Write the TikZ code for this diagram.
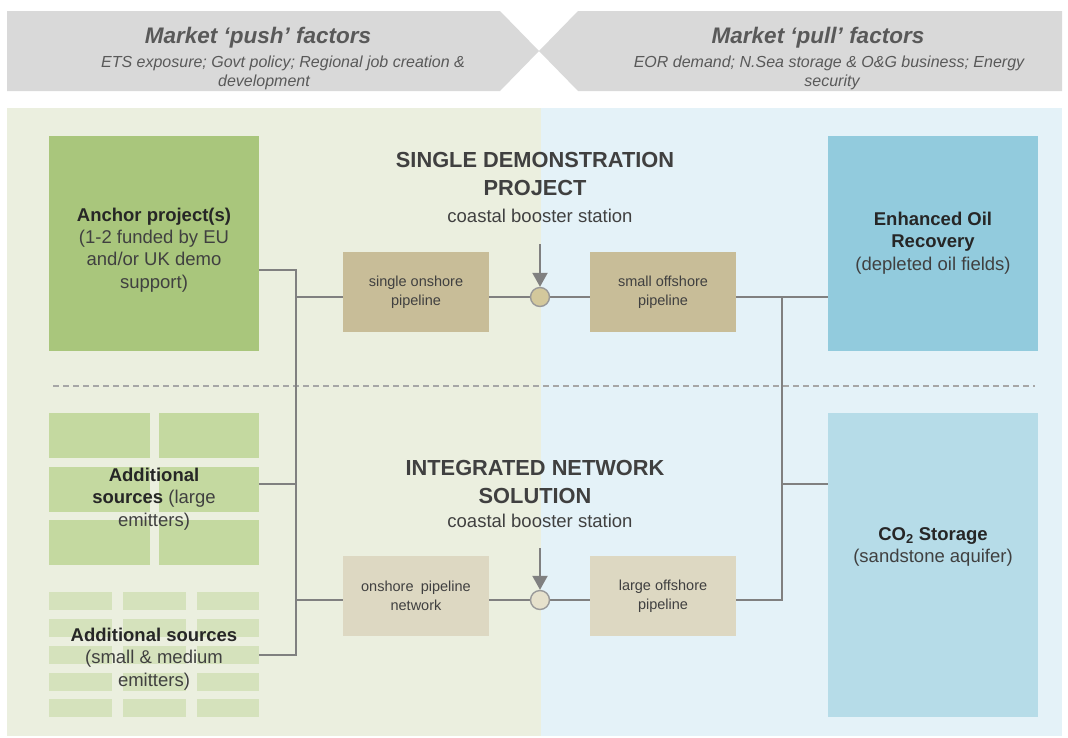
\documentclass[tikz,border=0pt]{standalone}
\usepackage{fontspec}
\setmainfont{Liberation Sans}
\usetikzlibrary{arrows.meta}
\definecolor{hdr}{HTML}{D9D9D9}
\definecolor{hdrtxt}{HTML}{595959}
\definecolor{panelL}{HTML}{EBEFDF}
\definecolor{panelR}{HTML}{E4F2F8}
\definecolor{anchorc}{HTML}{A9C67C}
\definecolor{largec}{HTML}{C4D9A0}
\definecolor{smallc}{HTML}{D5E2BC}
\definecolor{pipeA}{HTML}{C8BD98}
\definecolor{pipeB}{HTML}{DDD8C2}
\definecolor{eorc}{HTML}{92CBDD}
\definecolor{co2c}{HTML}{B6DCE8}
\definecolor{linegray}{HTML}{808080}
\definecolor{dashgray}{HTML}{A6A6A6}
\definecolor{txtdark}{HTML}{262626}
\definecolor{txtmid}{HTML}{404040}
\definecolor{circA}{HTML}{D3C89C}
\definecolor{circB}{HTML}{E6E1CC}
\tikzset{
  boxbase/.style={inner sep=0pt, outer sep=0pt, align=center, text=txtmid},
  bigbox/.style={boxbase, minimum width=210pt, minimum height=215pt},
  pipebox/.style={boxbase, minimum width=146pt, minimum height=80pt,
     font=\fontsize{14.5}{19}\selectfont},
  tile/.style={inner sep=0pt, outer sep=0pt},
  conn/.style={draw=linegray, line width=2.2pt},
  feed/.style={draw=linegray, line width=2.2pt, -{Triangle[length=14pt,width=15pt]}},
  junction/.style={circle, minimum size=19pt, inner sep=0pt, draw=linegray!80, line width=1.4pt},
  body/.style={align=center, text=txtmid, font=\fontsize{18.5}{22.5}\selectfont},
  heading/.style={align=center, text=txtmid, font=\fontsize{21.8}{28}\selectfont\bfseries},
  hdrtitle/.style={text=hdrtxt, font=\fontsize{22.5}{25}\selectfont\bfseries\itshape},
  hdrsub/.style={text=hdrtxt, font=\fontsize{16}{19}\selectfont\itshape},
}
\begin{document}
\begin{tikzpicture}[x=1pt,y=-1pt]
\useasboundingbox (0,0) rectangle (1068,737);
\fill[white] (0,0) rectangle (1068,737);
% header banners
\fill[hdr] (7,11) -- (500,11) -- (539,51) -- (500,91) -- (7,91) -- cycle;
\fill[hdr] (578,11) -- (1062,11) -- (1062,91) -- (578,91) -- (539,51) -- cycle;
\node[hdrtitle] (pushT) at (258,38) {Market ‘push’ factors};
\node[hdrsub] (pushS1) at (283,63) {ETS exposure; Govt policy; Regional job creation \&};
\node[hdrsub] (pushS2) at (264,82) {development};
\node[hdrtitle] (pullT) at (818,38) {Market ‘pull’ factors};
\node[hdrsub] (pullS1) at (829,63) {EOR demand; N.Sea storage \& O\&G business; Energy};
\node[hdrsub] (pullS2) at (832,82) {security};
% panels
\fill[panelL] (7,108) rectangle (541,736);
\fill[panelR] (541,108) rectangle (1062,736);
% dashed divider
\draw[dashgray, line width=1.6pt, dash pattern=on 6pt off 4pt] (53,386) -- (1035,386);
% anchor
\node[bigbox, fill=anchorc] (anchor) at (154,243.5) {};
\node[body, text=txtdark] (anchorT) at (154,250) {\textbf{Anchor project(s)}\\[-0.5pt]{\color{txtmid}(1-2 funded by EU}\\{\color{txtmid}and/or UK demo}\\{\color{txtmid}support)}};
% large emitters grid
\foreach \yy in {413,467,520} {
  \fill[largec] (49,\yy) rectangle (150,\yy+45);
  \fill[largec] (159,\yy) rectangle (259,\yy+45);
}
\node[tile, minimum width=210pt, minimum height=152pt] (large) at (154,489) {};
\node[body] (largeT) at (154,499) {\textbf{\color{txtdark}Additional}\\\textbf{\color{txtdark}sources} (large\\emitters)};
% small emitters grid
\foreach \yy in {592,619,646,673,699} {
  \fill[smallc] (49,\yy) rectangle (112,\yy+18);
  \fill[smallc] (123,\yy) rectangle (186,\yy+18);
  \fill[smallc] (197,\yy) rectangle (259,\yy+18);
}
\node[tile, minimum width=210pt, minimum height=125pt] (small) at (154,654.5) {};
\node[body] (smallT) at (154,659) {\textbf{\color{txtdark}Additional sources}\\(small \& medium\\emitters)};
% right boxes
\node[bigbox, fill=eorc] (eor) at (933,243.5) {};
\node[body] (eorT) at (933,243) {\textbf{\color{txtdark}Enhanced Oil}\\\textbf{\color{txtdark}Recovery}\\(depleted oil fields)};
\node[boxbase, fill=co2c, minimum width=210pt, minimum height=304pt] (co2) at (933,565) {};
\node[body] (co2T) at (933,547) {\textbf{\color{txtdark}CO\textsubscript{2} Storage}\\(sandstone aquifer)};
% headings
\node[heading] (demoT) at (535,174) {SINGLE DEMONSTRATION\\PROJECT};
\node[body] (demoS) at (540,216) {coastal booster station};
\node[heading] (netT) at (535,482) {INTEGRATED NETWORK\\SOLUTION};
\node[body] (netS) at (540,521) {coastal booster station};
% pipelines
\node[pipebox, fill=pipeA] (on1) at (416,292) {single onshore\\pipeline};
\node[pipebox, fill=pipeA] (off1) at (663,292) {small offshore\\pipeline};
\node[pipebox, fill=pipeB] (on2) at (416,596) {onshore\enspace pipeline\\network};
\node[pipebox, fill=pipeB] (off2) at (663,596) {large offshore\\pipeline};
% junctions
\coordinate (j1c) at (540,297);
\coordinate (j2c) at (540,600);
% buses
\coordinate (bL1) at (296,270);
\coordinate (bLtop) at (296,297);
\coordinate (bLl) at (296,484);
\coordinate (bLn) at (296,600);
\coordinate (bL2) at (296,655);
\coordinate (bR1) at (782,297);
\coordinate (bRc) at (782,484);
\coordinate (bR2) at (782,600);
\draw[conn] (anchor.east |- bL1) -- (bL1) -- (bL2) -- (small.east |- bL2);
\draw[conn] (large.east |- bLl) -- (bLl);
\draw[conn] (bLtop) -- (on1.west |- bLtop);
\draw[conn] (bLn) -- (on2.west |- bLn);
\draw[conn] (on1.east |- j1c) -- (off1.west |- j1c);
\draw[conn] (on2.east |- j2c) -- (off2.west |- j2c);
\draw[conn] (off1.east |- bR1) -- (eor.west |- bR1);
\draw[conn] (bR1) -- (bR2) -- (off2.east |- bR2);
\draw[conn] (bRc) -- (co2.west |- bRc);
\node[junction, fill=circA] (j1) at (j1c) {};
\node[junction, fill=circB] (j2) at (j2c) {};
\coordinate (f1) at (540,244);
\coordinate (f2) at (540,548);
\draw[feed] (f1) -- (j1.north);
\draw[feed] (f2) -- (j2.north);
\end{tikzpicture}
\end{document}
